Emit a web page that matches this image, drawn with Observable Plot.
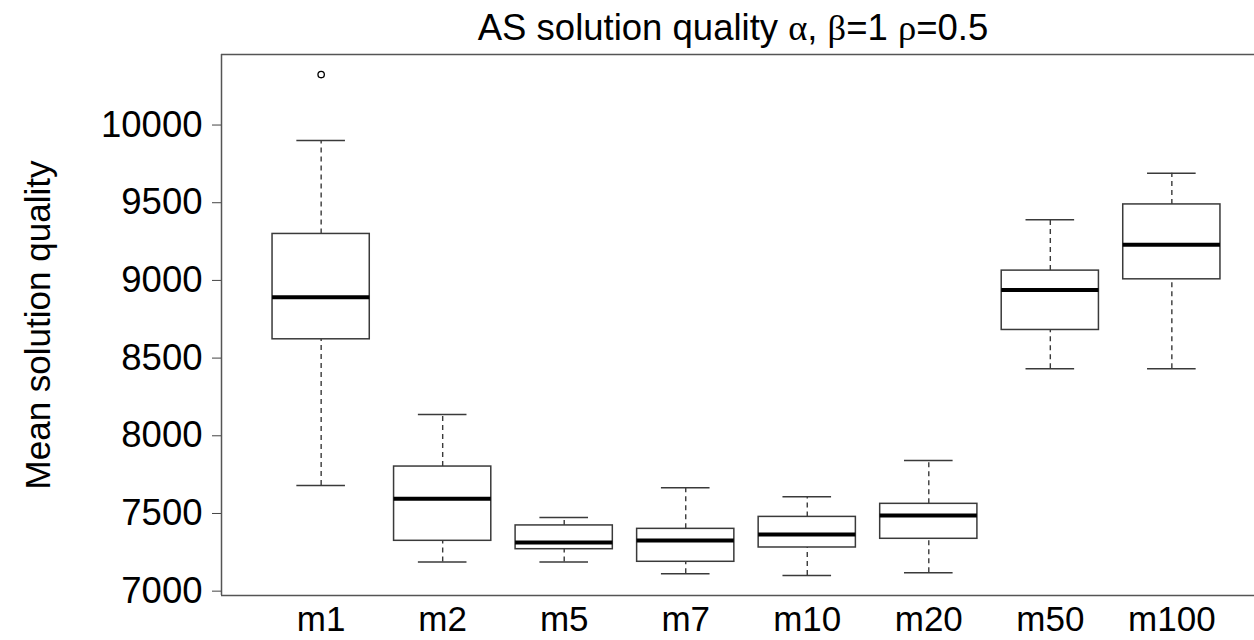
<!DOCTYPE html>
<html>
<head>
<meta charset="utf-8">
<script src="https://cdn.jsdelivr.net/npm/d3@7"></script>
<script src="https://cdn.jsdelivr.net/npm/@observablehq/plot@0.6"></script>
<style>
  html, body { margin: 0; padding: 0; background: white; overflow: hidden; }
  #wrap { width: 1254px; height: 640px; position: relative; }
  #title { height: 50px; position: relative; font-family: "Liberation Sans", Arial, sans-serif; }
  #title span.t { position: absolute; top: 10px; left: 733px; transform: translateX(-50%);
    white-space: nowrap; font-size: 36.5px; line-height: 35px; color: #000; }
  #title .g { font-family: "Liberation Serif", "DejaVu Serif", serif; }
</style>
</head>
<body>
<div id="wrap">
  <div id="title"><span class="t">AS solution quality <span class="g">α</span>, <span class="g">β</span>=1 <span class="g">ρ</span>=0.5</span></div>
  <div id="chart"></div>
</div>
<script>
// ---- data ----
const categories  = ["m1", "m2", "m5", "m7", "m10", "m20", "m50", "m100"];
const whiskerLow  = [7680, 7187, 7187, 7112, 7101, 7118, 8432, 8432];
const quartile1   = [8621, 7324, 7270, 7189, 7281, 7337, 8681, 9007];
const medians     = [8891, 7594, 7313, 7326, 7365, 7487, 8939, 9230];
const quartile3   = [9299, 7802, 7423, 7401, 7478, 7562, 9063, 9489];
const whiskerHigh = [9901, 8137, 7474, 7665, 7607, 7841, 9391, 9689];
const outlierCategory = ["m1"];
const outlierValue    = [10325];
const yTicks = [7000, 7500, 8000, 8500, 9000, 9500, 10000];
const yLabel = "Mean solution quality";

// ---- build tables ----
const rows = categories.map((c, i) => ({
  cat: c, pos: i + 1,
  lo: whiskerLow[i], q1: quartile1[i], med: medians[i], q3: quartile3[i], hi: whiskerHigh[i]
}));
const outliers = outlierCategory.map((c, i) => ({ pos: categories.indexOf(c) + 1, value: outlierValue[i] }));

// R-style 4% axis extension
const allVals = whiskerLow.concat(whiskerHigh, outlierValue);
const yMin = d3.min(allVals), yMax = d3.max(allVals);
const ext = (yMax - yMin) * 0.04;
const yDomain = [yMin - ext, yMax + ext];
const n = categories.length;
const xExt = n * 0.04;
const xDomain = [0.5 - xExt, n + 0.5 + xExt];

const boxHalf = 0.4, capHalf = 0.2;
const lineGray = "#3a3a3a";

const chart = Plot.plot({
  width: 1254,
  height: 590,
  marginLeft: 221,
  marginRight: 0,
  marginTop: 4,
  marginBottom: 45,
  style: { fontFamily: "Liberation Sans, Arial, sans-serif", fontSize: "36px", background: "white", color: "black" },
  x: { type: "linear", domain: xDomain, range: [221, 1271], axis: null },
  y: { domain: yDomain, axis: null },
  marks: [
    // whiskers (dashed)
    Plot.ruleX(rows, { x: "pos", y1: "q3", y2: "hi", stroke: lineGray, strokeWidth: 1.4, strokeDasharray: "5,4" }),
    Plot.ruleX(rows, { x: "pos", y1: "lo", y2: "q1", stroke: lineGray, strokeWidth: 1.4, strokeDasharray: "5,4" }),
    // whisker caps
    Plot.ruleY(rows, { y: "hi", x1: d => d.pos - capHalf, x2: d => d.pos + capHalf, stroke: lineGray, strokeWidth: 1.5 }),
    Plot.ruleY(rows, { y: "lo", x1: d => d.pos - capHalf, x2: d => d.pos + capHalf, stroke: lineGray, strokeWidth: 1.5 }),
    // boxes
    Plot.rect(rows, { x1: d => d.pos - boxHalf, x2: d => d.pos + boxHalf, y1: "q1", y2: "q3", fill: "white", stroke: lineGray, strokeWidth: 1.5 }),
    // medians
    Plot.ruleY(rows, { y: "med", x1: d => d.pos - boxHalf, x2: d => d.pos + boxHalf, stroke: "black", strokeWidth: 4 }),
    // outliers
    Plot.dot(outliers, { x: "pos", y: "value", r: 3.2, stroke: "black", strokeWidth: 1.3, fill: "none" }),
    // box frame (right side falls outside the image)
    Plot.ruleY(yDomain, { stroke: "#555", strokeWidth: 1.5 }),
    Plot.ruleX([xDomain[0]], { stroke: "#555", strokeWidth: 1.5 }),
    // axes
    Plot.axisY(yTicks, { tickSize: 9, tickPadding: 10, label: null, stroke: "#444", fontSize: 36.5, tickFormat: d => String(d) }),
    Plot.axisX(d3.range(1, n + 1), { tickSize: 0, tickPadding: 11, label: null, tickFormat: d => categories[d - 1], fontSize: 35 }),
    // y label
    Plot.text([yLabel], { frameAnchor: "left", textAnchor: "middle", lineAnchor: "middle", rotate: -90, dx: -183, fontSize: 35, fill: "black" })
  ]
});
document.getElementById("chart").appendChild(chart);
</script>
</body>
</html>
